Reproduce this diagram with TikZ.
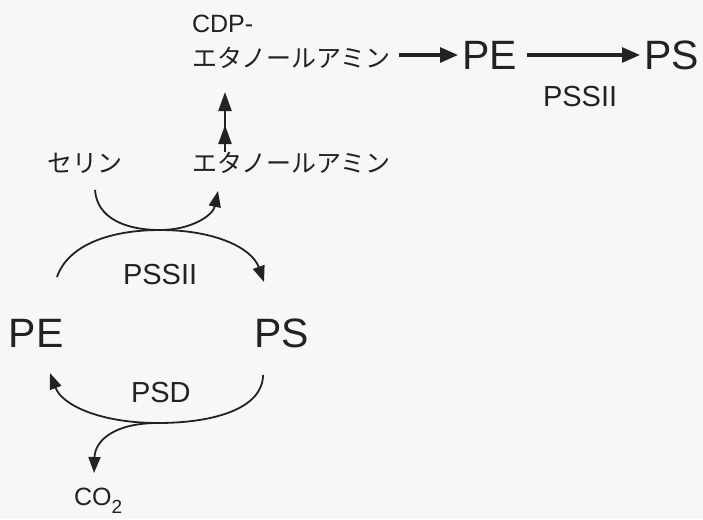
\documentclass[tikz,border=0pt]{standalone}
\usepackage{fontspec}
\setmainfont{Liberation Sans}
\newfontfamily\jp{Noto Sans CJK JP}
\usetikzlibrary{arrows.meta,calc}
\definecolor{ink}{HTML}{222222}
\begin{document}
\begin{tikzpicture}[x=1pt,y=-1pt,
  txt/.style={inner sep=0pt,outer sep=0pt,anchor=base west,text=ink},
  big/.style={txt,font=\fontsize{41}{41}\selectfont},
  mid/.style={txt,font=\fontsize{29}{29}\selectfont},
  jtxt/.style={txt,font=\jp\fontsize{25}{25}\selectfont},
  small/.style={txt,font=\fontsize{25}{25}\selectfont},
  harr/.style={draw=ink,line width=3pt,-{Triangle[length=18pt,width=15pt]}},
  varr/.style={draw=ink,line width=2.2pt,-{Triangle[length=19pt,width=13pt]}},
  carr/.style={draw=ink,line width=1.8pt,-{Triangle[length=16pt,width=12pt]}},
]
\fill[black!3] (0,0) rectangle (703,519);
\useasboundingbox (0,0) rectangle (703,519);

% texts
\node[small] (cdp) at (192,33) {CDP-};
\node[jtxt] (jtop) at (192,67) {エタノールアミン};
\node[big] (pe1) at (462,70) {PE};
\node[big] (ps1) at (644,70) {PS};
\node[mid] (pss1) at (543,106) {PSSII};
\node[jtxt] (ser) at (47,172) {セリン};
\node[jtxt] (jlow) at (192,172) {エタノールアミン};
\node[mid] (pss2) at (123,284) {PSSII};
\node[big] (pe2) at (9,347) {PE};
\node[big] (ps2) at (254,347) {PS};
\node[mid] (psd) at (131,402) {PSD};
\node[small] (co2) at (74,505) {CO\raisebox{-0.32em}{\fontsize{19}{19}\selectfont 2}};

% top row arrows
\coordinate (ay) at (0,55);
\draw[harr] ($(jtop.east|-ay)+(8,0)$) -- ($(pe1.west|-ay)+(-4,0)$);
\draw[harr] ($(pe1.east|-ay)+(10,0)$) -- ($(ps1.west|-ay)+(-4,0)$);

% double vertical arrow
\coordinate (vb) at (225,152);
\coordinate (vt) at (225,92);
\coordinate (vm) at (225,125);
\draw[varr] (vb) -- (vt);
\draw[varr] (vb) -- (vm);

% PSSII exchange
\coordinate (serS) at (95,190);
\coordinate (eaE) at (218,191);
\coordinate (touch) at (160,230);
\coordinate (peA) at (57,277);
\coordinate (psA) at (264,282);
\draw[carr] (serS) .. controls (97,218) and (125,230) .. (touch) .. controls (192,230) and (213,215) .. (eaE);
\draw[carr] (peA) .. controls (68,245) and (110,230) .. (touch) .. controls (215,230) and (252,248) .. (psA);

% PSD
\coordinate (psB) at (263,375);
\coordinate (peB) at (50,373);
\coordinate (bot) at (158,423);
\coordinate (co2T) at (94,473);
\draw[carr] (psB) .. controls (263,408) and (215,423) .. (bot) .. controls (100,423) and (62,405) .. (peB);
\draw[carr] (bot) .. controls (115,423) and (95,440) .. (co2T);
\end{tikzpicture}
\end{document}
